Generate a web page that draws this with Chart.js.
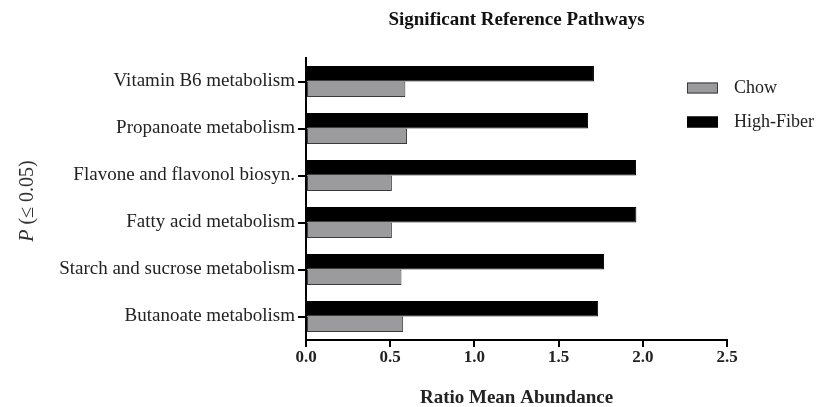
<!DOCTYPE html>
<html>
<head>
<meta charset="utf-8">
<title>Significant Reference Pathways</title>
<script src="https://cdn.jsdelivr.net/npm/chart.js@4/dist/chart.umd.min.js"></script>
<style>
    body { margin: 0; background: #fff; }
    #wrap { width: 818px; height: 407px; }
</style>
</head>
<body>
<div id="wrap"><canvas id="pathwayChart" width="818" height="407"></canvas></div>
<script>
// Data
const pathways = [
    'Vitamin B6 metabolism',
    'Propanoate metabolism',
    'Flavone and flavonol biosyn.',
    'Fatty acid metabolism',
    'Starch and sucrose metabolism',
    'Butanoate metabolism'
];
const highFiber = [1.71, 1.675, 1.96, 1.962, 1.77, 1.735];
const chow = [0.59, 0.60, 0.51, 0.51, 0.567, 0.577];
const xTickValues = [0, 0.5, 1.0, 1.5, 2.0, 2.5];

const SERIF = '"Liberation Serif", "Times New Roman", serif';

// Rotated y axis title with italic P
const yTitlePlugin = {
    id: 'yTitle',
    afterDraw(chart) {
        const ctx = chart.ctx;
        const cy = (chart.chartArea.top + chart.chartArea.bottom) / 2 + 2;
        ctx.save();
        ctx.translate(28, cy);
        ctx.rotate(-Math.PI / 2);
        ctx.fillStyle = '#333';
        ctx.textBaseline = 'middle';
        ctx.font = 'italic 20px ' + SERIF;
        const p = 'P';
        const pw = ctx.measureText(p).width;
        ctx.font = '20px ' + SERIF;
        const rest = ' (\u2264 0.05)';
        const rw = ctx.measureText(rest).width;
        let x = -(pw + rw) / 2;
        ctx.font = 'italic 20px ' + SERIF;
        ctx.textAlign = 'left';
        ctx.fillText(p, x, 0);
        ctx.font = '20px ' + SERIF;
        ctx.fillText(rest, x + pw, 0);
        ctx.restore();
    }
};

// Legend drawn at the upper right, Chow first
const legendPlugin = {
    id: 'sideLegend',
    afterDraw(chart) {
        const ctx = chart.ctx;
        const items = [chart.data.datasets[1], chart.data.datasets[0]];
        ctx.save();
        ctx.font = '18px ' + SERIF;
        ctx.textBaseline = 'middle';
        items.forEach(function(ds, i) {
            const y = 82.5 + i * 34;
            ctx.fillStyle = ds.backgroundColor;
            ctx.fillRect(687, y, 31, 11);
            ctx.strokeStyle = ds.borderColor;
            ctx.lineWidth = 1;
            ctx.strokeRect(687.5, y + 0.5, 30, 10);
            ctx.fillStyle = '#222';
            ctx.fillText(ds.label, 734, y + 6);
        });
        ctx.restore();
    }
};

const ctx = document.getElementById('pathwayChart').getContext('2d');
const chart = new Chart(ctx, {
    type: 'bar',
    data: {
        labels: pathways,
        datasets: [{
            label: 'High-Fiber',
            data: highFiber,
            backgroundColor: '#000000',
            borderColor: '#000000',
            borderWidth: 1,
            borderSkipped: false,
            barPercentage: 1,
            categoryPercentage: 0.66
        }, {
            label: 'Chow',
            data: chow,
            backgroundColor: '#9b9b9e',
            borderColor: '#3a3a3a',
            borderWidth: 1,
            borderSkipped: false,
            barPercentage: 1,
            categoryPercentage: 0.66
        }]
    },
    options: {
        indexAxis: 'y',
        responsive: false,
        animation: false,
        layout: {
            padding: { left: 0, right: 91, top: 0, bottom: 0 }
        },
        plugins: {
            legend: { display: false },
            tooltip: { enabled: false },
            title: {
                display: true,
                text: 'Significant Reference Pathways',
                fullSize: false,
                color: '#111',
                font: { family: SERIF, size: 19, weight: 'bold' },
                padding: { top: 9, bottom: 26.2 }
            }
        },
        scales: {
            x: {
                min: 0,
                max: 2.5,
                afterBuildTicks: function(scale) {
                    scale.ticks = xTickValues.map(function(v) { return { value: v }; });
                },
                afterFit: function(scale) {
                    scale.height = 67;
                },
                border: { display: true, color: '#000', width: 2 },
                grid: {
                    display: true,
                    drawOnChartArea: false,
                    drawTicks: true,
                    tickLength: 7,
                    color: '#000',
                    lineWidth: 2
                },
                ticks: {
                    padding: 0,
                    color: '#222',
                    font: { family: SERIF, size: 17, weight: 'bold' },
                    callback: function(value) { return Number(value).toFixed(1); }
                },
                title: {
                    display: true,
                    text: 'Ratio Mean Abundance',
                    color: '#222',
                    font: { family: SERIF, size: 19, weight: 'bold' },
                    padding: { top: 0, bottom: -2 }
                }
            },
            y: {
                afterFit: function(scale) {
                    scale.width = 306;
                },
                border: { display: true, color: '#000', width: 2 },
                grid: {
                    display: true,
                    offset: false,
                    drawOnChartArea: false,
                    drawTicks: true,
                    tickLength: 8,
                    color: '#000',
                    lineWidth: 2
                },
                ticks: {
                    padding: 3,
                    color: '#222',
                    font: { family: SERIF, size: 19 }
                }
            }
        }
    },
    plugins: [yTitlePlugin, legendPlugin]
});
</script>
</body>
</html>
